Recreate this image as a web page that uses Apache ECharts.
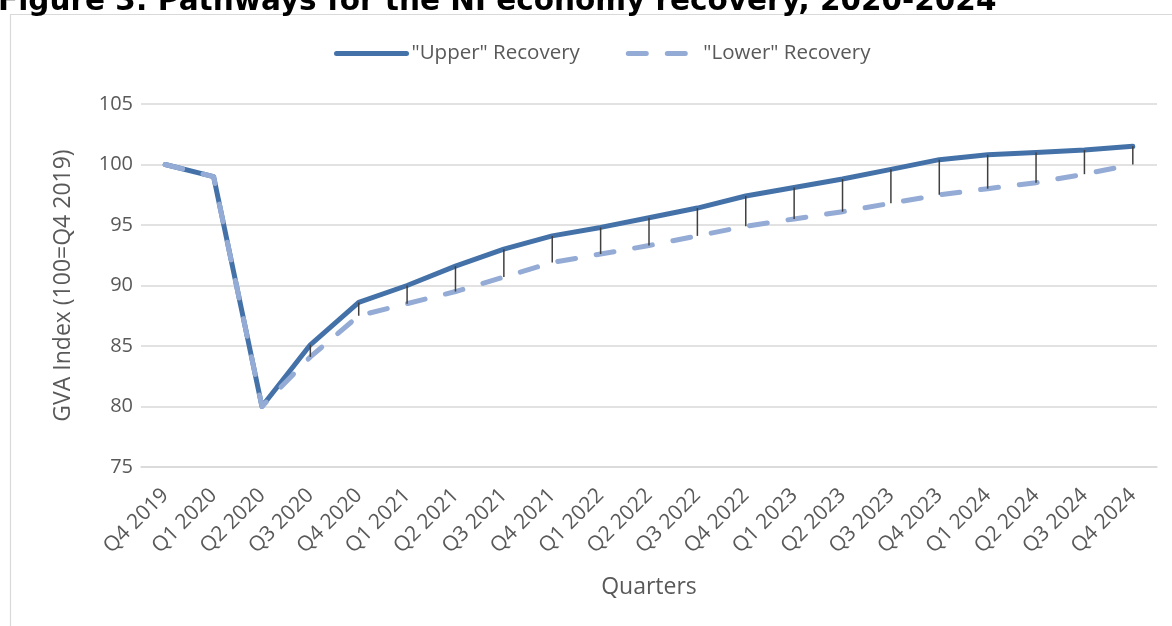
<!DOCTYPE html>
<html>
<head>
<meta charset="utf-8">
<style>
  html, body { margin: 0; padding: 0; background: #ffffff; }
  #chart { width: 1172px; height: 626px; }
</style>
<script src="https://cdn.jsdelivr.net/npm/echarts@6/dist/echarts.min.js"></script>
</head>
<body>
<div id="chart"></div>
<script>
// Quarterly GVA index pathways (100 = Q4 2019)
const quarters = ['Q4 2019', 'Q1 2020', 'Q2 2020', 'Q3 2020', 'Q4 2020',
  'Q1 2021', 'Q2 2021', 'Q3 2021', 'Q4 2021', 'Q1 2022', 'Q2 2022',
  'Q3 2022', 'Q4 2022', 'Q1 2023', 'Q2 2023', 'Q3 2023', 'Q4 2023',
  'Q1 2024', 'Q2 2024', 'Q3 2024', 'Q4 2024'];

const upperRecovery = [100, 99.0, 80.0, 85.1, 88.6, 90.0, 91.6, 93.0, 94.1,
  94.8, 95.6, 96.4, 97.4, 98.1, 98.8, 99.6, 100.4, 100.8, 101.0, 101.2, 101.5];

const lowerRecovery = [100, 99.0, 80.0, 84.1, 87.5, 88.5, 89.5, 90.7, 91.9,
  92.6, 93.3, 94.1, 94.9, 95.5, 96.1, 96.8, 97.5, 98.0, 98.5, 99.2, 100.0];

const seriesNames = ['"Upper" Recovery', '"Lower" Recovery'];
const yTicks = { min: 75, max: 105, interval: 5 };

const titleText = 'Figure 3: Pathways for the NI economy recovery, 2020-2024';

// high-low connectors between the two pathways
const gapData = quarters.map((q, i) => [i, upperRecovery[i], lowerRecovery[i]])
  .filter(d => Math.abs(d[1] - d[2]) > 0.05);

const FONT = '"Open Sans", "Noto Sans", sans-serif';
const TEXT = '#595959';
const UPPER_COLOR = '#4472a8';
const LOWER_COLOR = '#94abd5';
const LINE_W = 5;

const chart = echarts.init(document.getElementById('chart'), null, { renderer: 'canvas' });

chart.setOption({
  backgroundColor: '#ffffff',
  animation: false,
  textStyle: { fontFamily: FONT, color: TEXT },
  graphic: [
    {
      type: 'rect', z: -10, silent: true,
      shape: { x: 10.5, y: 14.5, width: 1300, height: 800 },
      style: { fill: '#ffffff', stroke: '#d9d9d9', lineWidth: 1.2 }
    },
    {
      type: 'text', z: 10, silent: true,
      style: {
        x: -2, y: 2, text: titleText,
        font: 'bold 29.5px "DejaVu Sans", Verdana, sans-serif',
        fill: '#000000', textAlign: 'left', textVerticalAlign: 'middle'
      }
    }
  ],
  legend: {
    data: seriesNames,
    top: 38, left: 329,
    itemWidth: 70, itemHeight: 14, itemGap: 46,
    itemStyle: { opacity: 0 },
    lineStyle: { width: LINE_W },
    textStyle: { fontFamily: FONT, fontSize: 20.5, color: TEXT, padding: [0, 0, 0, 0] }
  },
  grid: { left: 141, right: 15, top: 104, bottom: 159, containLabel: false },
  xAxis: {
    type: 'category',
    data: quarters,
    boundaryGap: true,
    name: 'Quarters',
    nameLocation: 'middle',
    nameGap: 109,
    nameTextStyle: { fontFamily: FONT, fontSize: 23, color: TEXT },
    axisLine: { show: true, lineStyle: { color: '#d9d9d9', width: 1.5 } },
    axisTick: { show: false },
    axisLabel: { rotate: 45, margin: 25, fontFamily: FONT, fontSize: 21, color: TEXT, interval: 0 },
    splitLine: { show: false }
  },
  yAxis: {
    type: 'value',
    min: yTicks.min, max: yTicks.max, interval: yTicks.interval,
    name: 'GVA Index (100=Q4 2019)',
    nameLocation: 'middle',
    nameRotate: 90,
    nameGap: 66,
    nameTextStyle: { fontFamily: FONT, fontSize: 23, color: TEXT },
    axisLine: { show: false },
    axisTick: { show: false },
    axisLabel: { margin: 8, fontFamily: FONT, fontSize: 20, color: TEXT },
    splitLine: { show: true, lineStyle: { color: '#d9d9d9', width: 1.5 } }
  },
  series: [
    {
      name: seriesNames[0],
      type: 'line',
      data: upperRecovery,
      symbol: 'none',
      z: 2,
      lineStyle: { color: UPPER_COLOR, width: LINE_W, cap: 'round', join: 'round' },
      itemStyle: { color: UPPER_COLOR }
    },
    {
      name: seriesNames[1],
      type: 'line',
      data: lowerRecovery,
      symbol: 'none',
      z: 3,
      lineStyle: { color: LOWER_COLOR, width: LINE_W, type: [18, 21], cap: 'round', join: 'round' },
      itemStyle: { color: LOWER_COLOR }
    },
    {
      name: 'gap',
      type: 'custom',
      z: 4,
      silent: true,
      data: gapData,
      encode: { x: 0, y: [1, 2] },
      renderItem: function (params, api) {
        const top = api.coord([api.value(0), api.value(1)]);
        const bottom = api.coord([api.value(0), api.value(2)]);
        return {
          type: 'line',
          shape: { x1: top[0], y1: top[1], x2: bottom[0], y2: bottom[1] },
          style: { stroke: '#404040', lineWidth: 1.5 }
        };
      }
    }
  ]
});
</script>
</body>
</html>
